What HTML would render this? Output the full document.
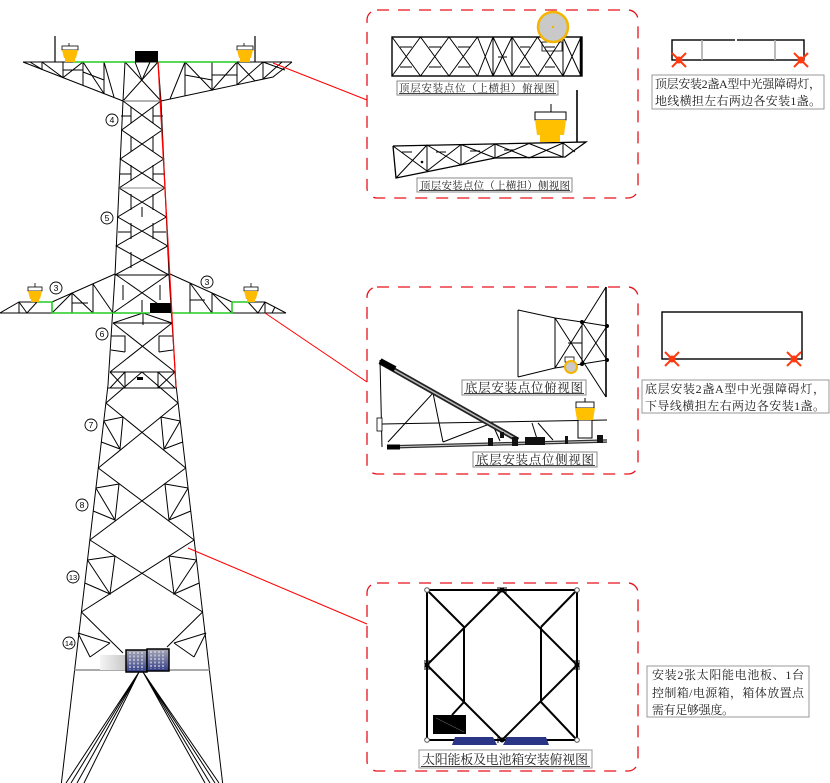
<!DOCTYPE html>
<html><head><meta charset="utf-8"><style>html,body{margin:0;padding:0;background:#fff}svg{display:block}</style></head>
<body>
<svg width="830" height="783" viewBox="0 0 830 783" xmlns="http://www.w3.org/2000/svg" font-family="'Liberation Serif','Noto Serif CJK SC',serif">
<defs>
<linearGradient id="pg" x1="0" y1="0" x2="0" y2="1"><stop offset="0" stop-color="#a8a8b4"/><stop offset="1" stop-color="#34408a"/></linearGradient>
<linearGradient id="gg" x1="0" y1="0" x2="1" y2="0"><stop offset="0" stop-color="#f4f4f4"/><stop offset="1" stop-color="#c8c8c8"/></linearGradient>
</defs>
<rect width="830" height="783" fill="#fff"/>

<!-- ============ TOWER ============ -->
<g stroke="#000" stroke-width="1" fill="none">
<!-- top crossarm -->
<path d="M23 62H292M23 62L123 101M292 62L273 77L161 101"/>
<path d="M125 62L161 101M158 62L123 101M125 62L123 101M158 62L161 101"/>
<path d="M42 62V69.4M63 62V77.6M83 62V85.4M104 62V93.6M42 62L63 77.6L83 62L104 93.6M104 62L114 97M30 62L42 69.4M63 70H83M83 72L104 80M135 62L142 80L150 62"/>
<path d="M185 62V95.9M212 62V90.1M237 62V84.7M263 62V79.2M185 62L170 99M185 62L212 90.1L237 62L255 81M263 62L237 84.7M212 75H237M263 79L282 62M263 62L285 70M185 75L212 80"/>
<path d="M123 101H161" stroke="#999" stroke-width="1.6"/>
<!-- upper body -->
<path d="M123 101L115 275L108 385L61.4 783M161 101L169 275L176 385L222.6 783"/>
<path d="M123 101L162.3 130L120.3 159L165 188L117.7 217L167.7 246L115 275M161 101L121.7 130L163.7 159L119 188L166.3 217L116.3 246L169 275"/>
<path d="M131 107V123M153 107V123M131 136V152M153 136V152M131 165V181M153 165V181M131 194V210M153 194V210M131 223V239M153 223V239M131 252V268M142 207V217M121 116H131M163 116H153M120 174H131M165 174H153M118 232H131M166 232H153"/>
<path d="M119 188H165" stroke="#888"/>
<path d="M115 275H169"/>
<!-- mid crossarm -->
<path d="M0 313H115M0 313L19 302H52L115 274"/>
<path d="M19 302V313M72 293V313M93 284V313M19 302L27 313L37 302M52 313L72 293L93 313M93 284L113 313M72 303H88"/>
<path d="M172 313H286M170 274L232 302H265L286 313"/>
<path d="M190 283V313M212 293V313M265 302V313M190 283L212 313M212 293L232 313M248 302L258 313L265 302M275 307L272 313M190 300H205"/>
<path d="M115 274L171 313M169 274L113 313M123 285V300M160 285V300M142 300V312"/>
<!-- below mid arm -->
<path d="M113 323H172M113 323L143 313L172 323M143 313V325M113 323L175 372M172 323L110 372M111 336H125V352M173 336H159V352M111 350L125 352M173 350L159 352"/>
<path d="M110 372H175M108 388H176M125 372V388M158 372V388M110 372L125 388M125 372L110 388M158 372L175 388M175 372L158 388"/>
<path d="M106 403L142 372L178 403"/>
<!-- diamonds -->
<path d="M105.9 403L185.7 468M178.1 403L98.3 468M98.3 468L194.1 540M185.7 468L89.9 540M89.9 540L202.6 612M194.1 540L81.4 612M81.4 612L123 653M202.6 612L167 647"/>
<!-- sub bracing left -->
<path d="M103.8 421L123 417L120 449L103.8 421M101.3 442L120 449"/>
<path d="M95.9 488L119 484L115 520L95.9 488M93.2 511L115 520"/>
<path d="M87.5 560L115 556L110 594L87.5 560M84.8 583L110 594"/>
<path d="M78 633L110 643M90 657L110 643M78 633L90 657"/>
<!-- sub bracing right -->
<path d="M180.2 421L161 417L164 449L180.2 421M182.7 442L164 449"/>
<path d="M188.1 488L165 484L169 520L188.1 488M190.8 511L169 520"/>
<path d="M196.5 560L169 556L174 594L196.5 560M199.2 583L174 594"/>
<path d="M206 633L174 643M194 657L174 643M206 633L194 657"/>
<path d="M74.7 670H209.3" stroke="#aaa" stroke-width="2"/>
<!-- guy lines -->
<path d="M139 672L66 783M139 672L71 783M139 672L77 783M139 672L84 783M143 672L205 783M143 672L210 783M143 672L215 783M143 672L219 783"/>
</g>
<!-- green lines -->
<g stroke="#22cc22" stroke-width="1.6" fill="none">
<path d="M73 62H135M158 62H237"/>
<path d="M37 302H52V313H150M171 313H232V302H250"/>
</g>
<!-- black boxes -->
<rect x="135" y="51" width="23" height="11" fill="#000"/>
<rect x="150" y="303" width="21" height="10" fill="#000"/>
<rect x="137" y="377" width="6" height="3" fill="#000"/>
<!-- posts -->
<path d="M55 36V62M255 36V62" stroke="#000" stroke-width="1.2"/>
<!-- lamps on tower -->
<g stroke="#000" stroke-width="0.8">
<path d="M69 43V46M244 43V46M35 283V287M251 283V287"/>
<rect x="62" y="46" width="16" height="4" fill="#fff"/>
<rect x="237" y="46" width="16" height="4" fill="#fff"/>
<rect x="28" y="287" width="14" height="4" fill="#fff"/>
<rect x="244" y="287" width="14" height="4" fill="#fff"/>
</g>
<g fill="#ffbb00">
<path d="M62 50H78L76 58H64Z"/><rect x="65" y="58" width="10" height="4"/>
<path d="M237 50H253L251 58H239Z"/><rect x="240" y="58" width="10" height="4"/>
<path d="M28 291H42L40 299H30Z"/><rect x="31" y="299" width="8" height="3"/>
<path d="M244 291H258L256 299H246Z"/><rect x="247" y="299" width="8" height="3"/>
</g>
<!-- red line along leg -->
<path d="M158 62L176 388" stroke="#ff0000" stroke-width="1.2"/>
<!-- leader lines -->
<path d="M273 63L367 100M265 313L367 382M188 548L367 624" stroke="#ff0000" stroke-width="1"/>
<!-- solar panels on tower -->
<rect x="100" y="655" width="26" height="15" fill="url(#gg)"/>
<rect x="126" y="650" width="21" height="22" fill="url(#pg)" stroke="#000" stroke-width="1.5"/>
<rect x="147" y="649" width="22" height="22" fill="url(#pg)" stroke="#000" stroke-width="1.5"/>
<g stroke="#e0e0ea" stroke-width="1.2" stroke-dasharray="2 1.5">
<path d="M130 652V670M134 652V670M138 652V670M142 652V670M151 651V669M155 651V669M159 651V669M163 651V669"/>
</g>
<!-- circled numbers -->
<g stroke="#000" stroke-width="0.9" fill="#fff">
<circle cx="112" cy="120" r="6"/><circle cx="107" cy="218" r="6"/><circle cx="56" cy="288" r="6"/><circle cx="207" cy="282" r="6"/><circle cx="102" cy="334" r="6"/><circle cx="91" cy="425" r="6"/><circle cx="82" cy="505" r="6"/><circle cx="73" cy="577" r="6"/><circle cx="69" cy="643" r="6"/>
</g>
<g font-family="'Liberation Sans',sans-serif" font-size="8.5" text-anchor="middle" fill="#000">
<text x="112" y="123">4</text><text x="107" y="221">5</text><text x="56" y="291">3</text><text x="207" y="285">3</text><text x="102" y="337">6</text><text x="91" y="428">7</text><text x="82" y="508">8</text><text x="73" y="580" font-size="7.5">13</text><text x="69" y="646" font-size="7.5">14</text>
</g>

<!-- ============ BOX 1 ============ -->
<rect x="367" y="10" width="271" height="188" rx="10" fill="none" stroke="#e8101a" stroke-width="1.3" stroke-dasharray="12 9"/>
<g stroke="#000" fill="none" stroke-width="1">
<rect x="392" y="37" width="190" height="39" stroke-width="1.4"/>
<path d="M581 37V76" stroke-width="2.5"/>
<path d="M493 37V76M512 37V76M563 37V76"/>
<path d="M392 37L420.5 76M420.5 37L392 76M420.5 37L449 76M449 37L420.5 76M449 37L477.5 76M477.5 37L449 76M477.5 37L493 76M493 37L477.5 76"/>
<path d="M400 47H412M429 47H441M458 47H470M400 67H412M429 67H441M458 67H470"/>
<path d="M493 37L512 76M512 37L493 76M498 57H507"/>
<path d="M512 37L537.5 76M537.5 37L512 76M537.5 37L563 76M563 37L537.5 76M520 47H530M545 47H555M520 67H530M545 67H555"/>
<path d="M563 37L581 76M581 37L563 76"/>
<rect x="542" y="42" width="20" height="9" stroke-width="0.8"/>
</g>
<circle cx="553" cy="27" r="15" fill="#c9c9c9" stroke="#f5b400" stroke-width="2.5"/>
<circle cx="553" cy="27" r="1.2" fill="#f5b400"/>
<rect x="397" y="81" width="161" height="14" fill="#fff" stroke="#888" stroke-width="1"/>
<path d="M399 93.5H556" stroke="#000" stroke-width="0.8"/>
<text x="399" y="91.5" font-size="10.5" textLength="156" lengthAdjust="spacing" fill="#222">顶层安装点位（上横担）俯视图</text>
<path d="M577 90V142" stroke="#000" stroke-width="1.6"/>
<g stroke="#000" fill="none" stroke-width="1">
<path d="M393 146L586 142L565 157L495 158L396 178L393 146" stroke-width="1.3"/>
<path d="M495 144V158M563 143V157M427 145V171M461 144.5V165"/>
<path d="M393 146L427 171M427 145L396 178M427 145L461 165M461 144.5L427 171M461 144.5L495 158M495 144L461 165"/>
<path d="M495 144L529 158M529 143.5L495 158M529 143.5L563 157M563 143L529 158M563 143L575 152"/>
<path d="M402 152H412M436 152H446M470 151H480M504 150H514"/>
<circle cx="422" cy="162" r="0.8" fill="#000"/>
</g>
<path d="M551 104V112" stroke="#000" stroke-width="1"/>
<rect x="535" y="112" width="31" height="8" fill="#fff" stroke="#000" stroke-width="1"/>
<path d="M535 120H566L564 135H537Z" fill="#ffc000"/>
<rect x="540" y="135" width="20" height="7" fill="#ffc000"/>
<rect x="417" y="178" width="155" height="14" fill="#fff" stroke="#888" stroke-width="1"/>
<path d="M419 190.5H570" stroke="#000" stroke-width="0.8"/>
<text x="420" y="189" font-size="10.5" textLength="150" lengthAdjust="spacing" fill="#222">顶层安装点位（上横担）侧视图</text>

<!-- top right mini diagram -->
<rect x="672" y="40" width="132" height="20" fill="none" stroke="#000" stroke-width="1.4"/>
<path d="M702 40V60M775 40V60" stroke="#aaa" stroke-width="1.6"/>
<path d="M736 38V62" stroke="#fff" stroke-width="2" stroke-dasharray="3 3"/>
<g stroke="#ff3a10" stroke-width="2" fill="none">
<path d="M672 53L686 67M686 53L672 67M794 53L808 67M808 53L794 67"/>
<circle cx="679" cy="60" r="2.5"/><circle cx="801" cy="60" r="2.5"/>
</g>
<rect x="652" y="75" width="172" height="34" fill="#fff" stroke="#999" stroke-width="1"/>
<g font-size="12" fill="#222">
<text x="655" y="88" textLength="166" lengthAdjust="spacing">顶层安装2盏A型中光强障碍灯，</text>
<text x="655" y="105" textLength="166" lengthAdjust="spacing">地线横担左右两边各安装1盏。</text>
</g>

<!-- ============ BOX 2 ============ -->
<rect x="367" y="287" width="271" height="187" rx="10" fill="none" stroke="#e8101a" stroke-width="1.3" stroke-dasharray="12 9"/>
<g stroke="#000" fill="none" stroke-width="1">
<path d="M518 310V377M518 310L555 318L582 322L607 326M518 377L555 368L582 364L607 360"/>
<path d="M606 287V397" stroke-width="1.6"/>
<path d="M555 318V368M582 322V364M582 322L607 360M582 364L607 326M606 287L555 368M606 397L555 318M568 343H582"/>
</g>
<g fill="#000"><circle cx="582" cy="322" r="2"/><circle cx="582" cy="364" r="2"/><circle cx="607" cy="326" r="2"/><circle cx="607" cy="360" r="2"/></g>
<rect x="565" y="357" width="9" height="5" fill="none" stroke="#000" stroke-width="0.8"/>
<circle cx="571" cy="367" r="6" fill="#c9c9c9" stroke="#f5b400" stroke-width="2"/>
<rect x="462" y="380" width="124" height="15" fill="#fff" stroke="#888" stroke-width="1"/>
<path d="M464 393.5H584" stroke="#000" stroke-width="0.8"/>
<text x="465" y="392" font-size="12.5" textLength="118" lengthAdjust="spacing" fill="#222">底层安装点位俯视图</text>
<!-- side view -->
<g stroke="#000" fill="none" stroke-width="1">
<path d="M380 360L382 447"/>
<path d="M382 424L607 420"/>
<path d="M388 442L433 393L443 442M443 442L492 423M532 423L538 442M538 423L553 440M492 423L500 441M578 420V438"/>
</g>
<path d="M380 362L518 440" stroke="#222" stroke-width="5"/>
<path d="M380 362L518 440" stroke="#bbb" stroke-width="1.5"/>
<path d="M380 361L395 369" stroke="#000" stroke-width="6"/>
<path d="M387 447L607 441" stroke="#333" stroke-width="3.5"/>
<path d="M387 447L607 441" stroke="#ccc" stroke-width="1"/>
<path d="M387 447L400 447" stroke="#000" stroke-width="5"/>
<rect x="377" y="418" width="5" height="13" fill="#fff" stroke="#000" stroke-width="0.8"/>
<g fill="#111"><rect x="488" y="438" width="5" height="8"/><rect x="512" y="437" width="6" height="9"/><rect x="525" y="437" width="20" height="8"/><rect x="565" y="436" width="3" height="8"/><rect x="597" y="435" width="6" height="8"/><rect x="500" y="432" width="4" height="6"/></g>
<rect x="578" y="420" width="14" height="18" fill="#fff" stroke="#000" stroke-width="1"/>
<path d="M585 398V402" stroke="#000" stroke-width="1"/>
<rect x="576" y="402" width="18" height="6" fill="#fff" stroke="#000" stroke-width="0.9"/>
<path d="M575 408H595L593 420H577Z" fill="#ffc000"/>
<rect x="473" y="452" width="124" height="15" fill="#fff" stroke="#888" stroke-width="1"/>
<path d="M475 465.5H595" stroke="#000" stroke-width="0.8"/>
<text x="476" y="464" font-size="12.5" textLength="118" lengthAdjust="spacing" fill="#222">底层安装点位侧视图</text>

<!-- mid right diagram -->
<rect x="662" y="312" width="140" height="47" fill="none" stroke="#000" stroke-width="1.4"/>
<g stroke="#ff3a10" stroke-width="2" fill="none">
<path d="M665 352L679 366M679 352L665 366M787 352L801 366M801 352L787 366"/>
<circle cx="672" cy="359" r="2.5"/><circle cx="794" cy="359" r="2.5"/>
</g>
<rect x="642" y="380" width="187" height="33" fill="#fff" stroke="#999" stroke-width="1"/>
<g font-size="12" fill="#222">
<text x="645" y="393" textLength="180" lengthAdjust="spacing">底层安装2盏A型中光强障碍灯，</text>
<text x="645" y="410" textLength="180" lengthAdjust="spacing">下导线横担左右两边各安装1盏。</text>
</g>

<!-- ============ BOX 3 ============ -->
<rect x="367" y="583" width="271" height="188" rx="10" fill="none" stroke="#e8101a" stroke-width="1.3" stroke-dasharray="12 9"/>
<g stroke="#000" fill="none" stroke-width="2">
<rect x="427" y="590" width="150" height="150"/>
<path d="M427 590L464 627M502 590L427 665M502 590L577 665M577 590L541 627M427 665L502 740M577 665L502 740M577 740L541 702M452 715L464 702M464 627V702M541 627V702"/>
</g>
<g stroke="#000" stroke-width="1">
<path d="M498 587V593M500 587V593M504 587V593M506 587V593M424 661H430M424 663H430M424 667H430M424 669H430M574 661H580M574 663H580M574 667H580M574 669H580M498 737V743M506 737V743"/>
</g>
<g fill="#000"><circle cx="502" cy="590" r="2.5"/><circle cx="427" cy="665" r="2.5"/><circle cx="577" cy="665" r="2.5"/><circle cx="502" cy="740" r="2.5"/></g>
<g fill="#fff" stroke="#555" stroke-width="1"><circle cx="427" cy="590" r="2.3"/><circle cx="577" cy="590" r="2.3"/><circle cx="427" cy="740" r="2.3"/><circle cx="577" cy="740" r="2.3"/></g>
<rect x="433" y="715" width="33" height="19" fill="#000"/>
<path d="M436 718L464 732" stroke="#666" stroke-width="0.6"/>
<path d="M455 737H493L497 745H452Z" fill="#2a3586"/>
<path d="M507 737H546L549 745H503Z" fill="#2a3586"/>
<rect x="419" y="750" width="173" height="18" fill="#fff" stroke="#999" stroke-width="1"/>
<path d="M421 766.5H590" stroke="#000" stroke-width="0.8"/>
<text x="422" y="764" font-size="13" textLength="166" lengthAdjust="spacing" fill="#222">太阳能板及电池箱安装俯视图</text>

<rect x="647" y="666" width="162" height="51" fill="#fff" stroke="#999" stroke-width="1"/>
<g font-size="12" fill="#222">
<text x="652" y="679" textLength="152" lengthAdjust="spacing">安装2张太阳能电池板、1台</text>
<text x="652" y="697" textLength="152" lengthAdjust="spacing">控制箱/电源箱，箱体放置点</text>
<text x="652" y="714" textLength="82" lengthAdjust="spacing">需有足够强度。</text>
</g>
</svg>
</body></html>
